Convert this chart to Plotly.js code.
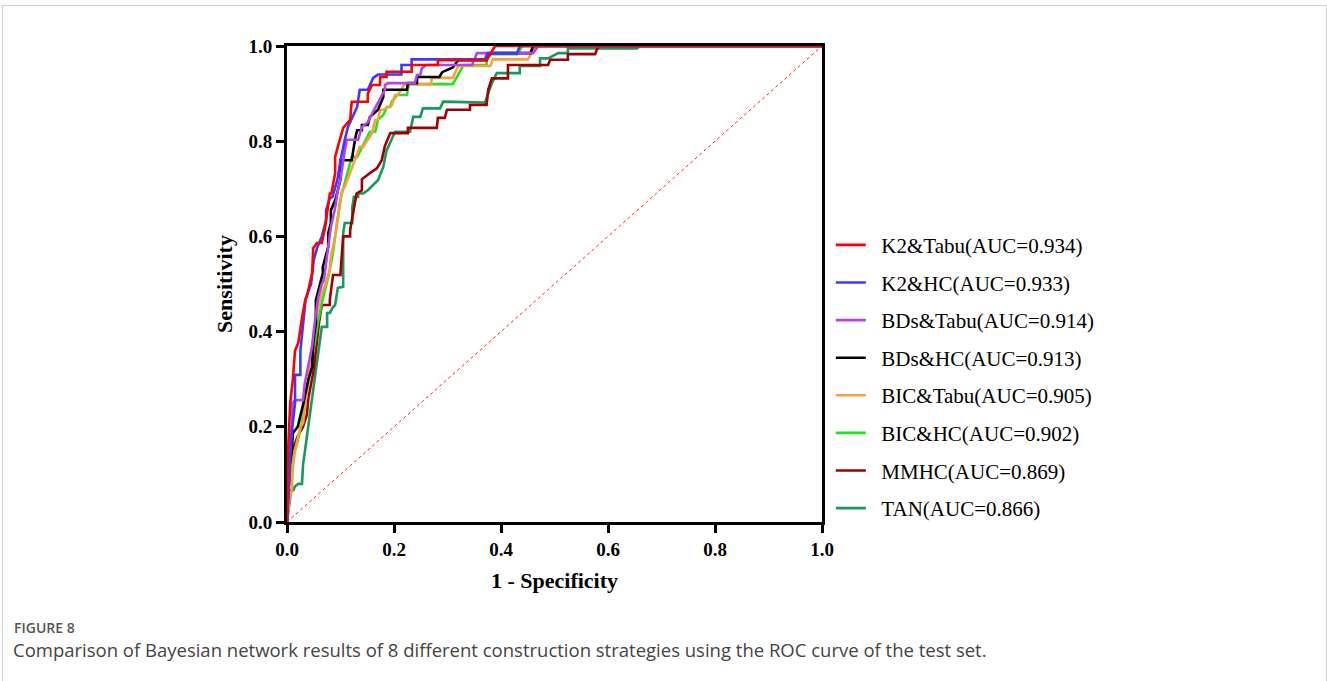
<!DOCTYPE html>
<html>
<head>
<meta charset="utf-8">
<script src="https://cdn.plot.ly/plotly-3.0.1.min.js"></script>
<style>
  html, body { margin: 0; padding: 0; background: #fff; }
  #frame { position: absolute; left: 2px; top: 5px; width: 1323px; height: 700px;
           border-top: 1px solid #cfcfcf; border-left: 1px solid #cfcfcf; border-right: 1px solid #cfcfcf; }
  #chart { position: absolute; left: 0; top: 0; width: 1327px; height: 681px; }
</style>
</head>
<body>
<div id="frame"></div>
<div id="chart"></div>
<script>
// ---- Data ----
const seriesNames = [
  "K2&Tabu(AUC=0.934)", "K2&HC(AUC=0.933)", "BDs&Tabu(AUC=0.914)", "BDs&HC(AUC=0.913)",
  "BIC&Tabu(AUC=0.905)", "BIC&HC(AUC=0.902)", "MMHC(AUC=0.869)", "TAN(AUC=0.866)"
];
const seriesColors = ["#ff0000", "#3a3aff", "#b444e6", "#000000", "#f8a13c", "#22e222", "#a00000", "#17995c"];

const k2TabuFpr = [0, 0.002, 0.006, 0.011, 0.015, 0.021, 0.028, 0.034, 0.037, 0.047, 0.049, 0.056, 0.065, 0.071, 0.08, 0.083, 0.09, 0.09, 0.095, 0.105, 0.118, 0.121, 0.151, 0.151, 0.159, 0.174, 0.174, 0.186, 0.186, 0.233, 0.233, 0.282, 0.282, 0.373, 0.389, 1.0];
const k2TabuTpr = [0, 0.15, 0.25, 0.30, 0.36, 0.376, 0.428, 0.466, 0.473, 0.523, 0.575, 0.586, 0.586, 0.617, 0.69, 0.69, 0.733, 0.767, 0.788, 0.828, 0.845, 0.883, 0.883, 0.9, 0.918, 0.918, 0.935, 0.935, 0.946, 0.946, 0.96, 0.96, 0.97, 0.97, 1.0, 1.0];

const k2HcFpr = [0, 0.005, 0.01, 0.015, 0.015, 0.025, 0.025, 0.03, 0.035, 0.045, 0.05, 0.056, 0.065, 0.073, 0.073, 0.08, 0.085, 0.094, 0.1, 0.108, 0.114, 0.131, 0.136, 0.151, 0.161, 0.17, 0.214, 0.214, 0.233, 0.233, 0.37, 0.375, 0.43, 0.435, 1.0];
const k2HcTpr  = [0, 0.12, 0.2, 0.25, 0.309, 0.309, 0.36, 0.42, 0.47, 0.5, 0.55, 0.575, 0.6, 0.634, 0.655, 0.68, 0.683, 0.718, 0.76, 0.803, 0.83, 0.872, 0.908, 0.908, 0.933, 0.94, 0.94, 0.96, 0.96, 0.972, 0.972, 0.985, 0.985, 1.0, 1.0];

const bdsTabuFpr = [0, 0.005, 0.01, 0.01, 0.015, 0.03, 0.033, 0.04, 0.047, 0.052, 0.058, 0.065, 0.069, 0.075, 0.082, 0.09, 0.095, 0.1, 0.105, 0.108, 0.112, 0.133, 0.14, 0.151, 0.16, 0.17, 0.183, 0.183, 0.189, 0.239, 0.243, 0.249, 0.252, 0.26, 0.346, 0.355, 0.46, 0.47, 1.0];
const bdsTabuTpr = [0, 0.15, 0.22, 0.25, 0.256, 0.256, 0.29, 0.33, 0.37, 0.42, 0.47, 0.5, 0.508, 0.56, 0.62, 0.66, 0.697, 0.72, 0.76, 0.78, 0.803, 0.803, 0.83, 0.84, 0.86, 0.88, 0.908, 0.918, 0.922, 0.922, 0.939, 0.939, 0.953, 0.96, 0.96, 0.985, 0.985, 1.0, 1.0];

const bdsHcFpr = [0, 0.005, 0.009, 0.011, 0.02, 0.028, 0.03, 0.04, 0.047, 0.049, 0.054, 0.054, 0.06, 0.067, 0.067, 0.077, 0.077, 0.082, 0.082, 0.09, 0.095, 0.1, 0.1, 0.121, 0.127, 0.131, 0.14, 0.14, 0.151, 0.155, 0.17, 0.18, 0.18, 0.224, 0.226, 0.243, 0.243, 0.285, 0.29, 0.31, 0.32, 0.373, 0.38, 0.455, 0.46, 1.0];
const bdsHcTpr  = [0, 0.12, 0.151, 0.187, 0.2, 0.235, 0.246, 0.3, 0.326, 0.376, 0.418, 0.466, 0.494, 0.523, 0.536, 0.578, 0.607, 0.628, 0.655, 0.676, 0.697, 0.72, 0.76, 0.76, 0.803, 0.823, 0.823, 0.834, 0.834, 0.851, 0.866, 0.893, 0.908, 0.908, 0.922, 0.922, 0.935, 0.935, 0.945, 0.955, 0.97, 0.97, 0.985, 0.985, 1.0, 1.0];

const bicTabuFpr = [0, 0.005, 0.009, 0.011, 0.015, 0.025, 0.03, 0.035, 0.04, 0.045, 0.05, 0.055, 0.06, 0.065, 0.072, 0.08, 0.082, 0.09, 0.095, 0.1, 0.103, 0.108, 0.118, 0.127, 0.136, 0.142, 0.159, 0.165, 0.17, 0.174, 0.18, 0.196, 0.202, 0.207, 0.22, 0.27, 0.27, 0.31, 0.32, 0.38, 0.385, 0.45, 0.465, 1.0];
const bicTabuTpr  = [0, 0.05, 0.067, 0.116, 0.15, 0.2, 0.208, 0.25, 0.3, 0.35, 0.4, 0.43, 0.46, 0.48, 0.5, 0.53, 0.557, 0.6, 0.64, 0.683, 0.697, 0.704, 0.733, 0.76, 0.788, 0.788, 0.817, 0.845, 0.845, 0.866, 0.866, 0.876, 0.897, 0.897, 0.92, 0.92, 0.933, 0.933, 0.958, 0.958, 0.972, 0.972, 1.0, 1.0];

const bicHcFpr = [0, 0.005, 0.011, 0.015, 0.02, 0.028, 0.035, 0.042, 0.05, 0.058, 0.065, 0.072, 0.078, 0.085, 0.09, 0.095, 0.1, 0.108, 0.115, 0.121, 0.131, 0.14, 0.155, 0.165, 0.17, 0.18, 0.187, 0.193, 0.196, 0.206, 0.224, 0.228, 0.31, 0.33, 0.373, 0.373, 0.43, 0.44, 1.0];
const bicHcTpr  = [0, 0.1, 0.137, 0.151, 0.17, 0.21, 0.26, 0.3, 0.36, 0.42, 0.46, 0.49, 0.519, 0.56, 0.6, 0.65, 0.68, 0.712, 0.74, 0.767, 0.767, 0.788, 0.82, 0.82, 0.845, 0.855, 0.872, 0.872, 0.883, 0.897, 0.897, 0.92, 0.92, 0.96, 0.96, 0.983, 0.983, 1.0, 1.0];

const mmhcFpr = [0, 0.005, 0.01, 0.02, 0.03, 0.037, 0.04, 0.05, 0.055, 0.06, 0.065, 0.08, 0.08, 0.086, 0.1, 0.1, 0.105, 0.118, 0.118, 0.124, 0.13, 0.14, 0.14, 0.155, 0.168, 0.177, 0.183, 0.193, 0.226, 0.226, 0.28, 0.282, 0.295, 0.299, 0.342, 0.342, 0.373, 0.376, 0.383, 0.413, 0.413, 0.488, 0.492, 0.525, 0.525, 0.576, 0.58, 0.585, 1.0];
const mmhcTpr  = [0, 0.1, 0.15, 0.18, 0.2, 0.225, 0.26, 0.32, 0.37, 0.42, 0.456, 0.456, 0.466, 0.519, 0.519, 0.523, 0.6, 0.6, 0.613, 0.655, 0.69, 0.697, 0.72, 0.733, 0.743, 0.76, 0.79, 0.817, 0.817, 0.828, 0.828, 0.849, 0.849, 0.866, 0.866, 0.876, 0.876, 0.908, 0.932, 0.932, 0.96, 0.96, 0.971, 0.971, 0.983, 0.983, 0.995, 1.0, 1.0];

const tanFpr = [0, 0.004, 0.008, 0.012, 0.015, 0.021, 0.028, 0.03, 0.035, 0.04, 0.045, 0.05, 0.055, 0.058, 0.065, 0.075, 0.075, 0.08, 0.085, 0.09, 0.095, 0.105, 0.105, 0.108, 0.122, 0.122, 0.125, 0.133, 0.133, 0.142, 0.151, 0.17, 0.18, 0.186, 0.198, 0.202, 0.23, 0.236, 0.249, 0.254, 0.286, 0.292, 0.37, 0.383, 0.392, 0.435, 0.435, 0.473, 0.473, 0.488, 0.507, 0.525, 0.525, 0.654, 0.66, 1.0];
const tanTpr  = [0, 0.04, 0.067, 0.067, 0.075, 0.08, 0.08, 0.12, 0.16, 0.2, 0.24, 0.28, 0.32, 0.347, 0.41, 0.41, 0.439, 0.439, 0.45, 0.456, 0.492, 0.494, 0.607, 0.628, 0.628, 0.66, 0.683, 0.683, 0.69, 0.69, 0.697, 0.718, 0.746, 0.78, 0.81, 0.82, 0.82, 0.851, 0.851, 0.869, 0.869, 0.883, 0.881, 0.922, 0.943, 0.943, 0.958, 0.958, 0.974, 0.974, 0.985, 0.985, 0.995, 0.995, 1.0, 1.0];

const refFpr = [0, 1];
const refTpr = [0, 1];

const xTickVals = [0, 0.2, 0.4, 0.6, 0.8, 1.0];
const xTickText = ["0.0", "0.2", "0.4", "0.6", "0.8", "1.0"];
const yTickVals = [0, 0.2, 0.4, 0.6, 0.8, 1.0];
const yTickText = ["0.0", "0.2", "0.4", "0.6", "0.8", "1.0"];

const xs = [k2TabuFpr, k2HcFpr, bdsTabuFpr, bdsHcFpr, bicTabuFpr, bicHcFpr, mmhcFpr, tanFpr];
const ys = [k2TabuTpr, k2HcTpr, bdsTabuTpr, bdsHcTpr, bicTabuTpr, bicHcTpr, mmhcTpr, tanTpr];

// ---- Traces ----
const traces = [{
  x: refFpr, y: refTpr, type: "scatter", mode: "lines", showlegend: false,
  line: { color: "#ff2020", width: 1, dash: "dot" }, hoverinfo: "skip"
}];
for (let i = seriesNames.length - 1; i >= 0; i--) {
  traces.push({
    x: xs[i], y: ys[i], type: "scatter", mode: "lines",
    name: "\u00a0\u00a0" + seriesNames[i], legendrank: i + 1, legendgroup: "g" + i,
    line: { color: seriesColors[i], width: 2.6, shape: "linear" }
  });
}

const serif = "'Liberation Serif', 'Times New Roman', serif";
const axisCommon = {
  range: [0, 1], showgrid: false, zeroline: false,
  showline: true, mirror: true, linecolor: "#000", linewidth: 3,
  ticks: "outside", ticklen: 8, tickwidth: 3, tickcolor: "#000",
  tickfont: { family: serif, size: 19, color: "#000", weight: "bold" },
  fixedrange: true
};

const layout = {
  width: 1327, height: 681,
  margin: { l: 287, r: 505, t: 46, b: 159 },
  paper_bgcolor: "rgba(0,0,0,0)", plot_bgcolor: "#fff",
  xaxis: Object.assign({}, axisCommon, {
    tickvals: xTickVals, ticktext: xTickText,
    title: { text: "<b>1 - Specificity</b>", font: { family: serif, size: 22, color: "#000" }, standoff: 14 }
  }),
  yaxis: Object.assign({}, axisCommon, {
    tickvals: yTickVals, ticktext: yTickText,
    title: { text: "<b>Sensitivity</b>", font: { family: serif, size: 22, color: "#000" }, standoff: 10 }
  }),
  showlegend: true,
  legend: {
    x: 1.0165, xanchor: "left", y: 0.6245, yanchor: "top",
    font: { family: serif, size: 21, color: "#000" },
    bgcolor: "rgba(0,0,0,0)", borderwidth: 0,
    traceorder: "grouped", tracegroupgap: 7.3, itemwidth: 30
  },
  annotations: [
    { xref: "paper", yref: "paper", x: -0.514, y: -0.2225, xanchor: "left", yanchor: "middle",
      text: "FIGURE 8", showarrow: false,
      font: { family: "'Open Sans', 'Noto Sans', sans-serif", size: 14, color: "#555", weight: 600 } },
    { xref: "paper", yref: "paper", x: -0.516, y: -0.2675, xanchor: "left", yanchor: "middle",
      text: "Comparison of Bayesian network results of 8 different construction strategies using the ROC curve of the test set.",
      showarrow: false,
      font: { family: "'Open Sans', 'Noto Sans', sans-serif", size: 18.5, color: "#444" } }
  ]
};

Plotly.newPlot("chart", traces, layout, { displayModeBar: false, staticPlot: true });
</script>
</body>
</html>
